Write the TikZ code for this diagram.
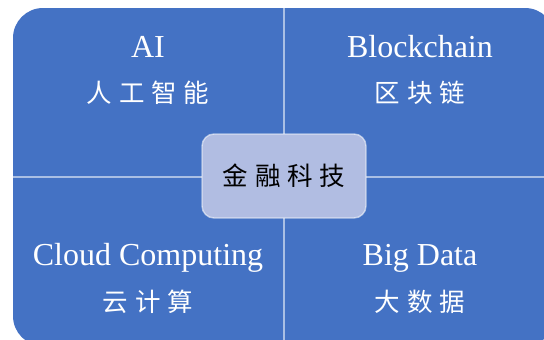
\documentclass[tikz,border=0pt]{standalone}
\usepackage{fontspec}
\setmainfont{Liberation Serif}
\newfontfamily\cjk[LetterSpace=27]{Noto Sans CJK SC}
\definecolor{tileblue}{HTML}{4472C4}
\definecolor{hubfill}{HTML}{B1BDE2}
\tikzset{
  tile/.style={fill=tileblue, draw=none, rounded corners=30pt, inner sep=0pt},
  divider/.style={draw=white, draw opacity=0.55, line width=1.6pt},
  hub/.style={fill=hubfill, draw=white, draw opacity=0.55, line width=1.4pt,
    rounded corners=12pt, minimum width=164pt, minimum height=84pt, inner sep=0pt},
  entxt/.style={text=white, font=\fontsize{32}{36}\selectfont, inner sep=0pt},
  cntxt/.style={text=white, font=\cjk\fontsize{25.5}{28}\selectfont, inner sep=0pt},
}
\begin{document}
\begin{tikzpicture}[x=1pt,y=-1pt]
  \useasboundingbox (0,0) rectangle (544,340);
  \clip (0,0) rectangle (544,340);
  % the blue board, divided into four quadrants
  \node[tile, minimum width=542pt, minimum height=338pt] (board) at (284,177) {};
  \draw[divider] (board.north) -- (board.south);
  \draw[divider] (board.west) -- (board.east);
  % quadrant labels
  \node[entxt] (ai) at (148,47) {AI};
  \node[cntxt] (aizh) at (148,93) {人工智能};
  \node[entxt] (bc) at (420,47) {Blockchain};
  \node[cntxt] (bczh) at (420,93) {区块链};
  \node[entxt] (cc) at (148,258) {Cloud Computing};
  \node[cntxt] (cczh) at (148,302) {云计算};
  \node[entxt] (bd) at (420,258) {Big Data};
  \node[cntxt] (bdzh) at (420,302) {大数据};
  % the hub in the middle
  \node[hub] (fintech) at (284,176) {};
  \node[cntxt, text=black] (fintechtxt) at (fintech.center) {金融科技};
\end{tikzpicture}
\end{document}
